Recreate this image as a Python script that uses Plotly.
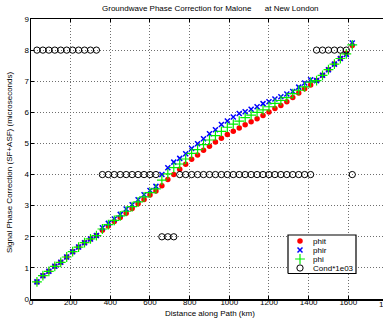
import plotly.graph_objects as go

# ---------------- data ----------------
dist_km = [30, 60, 90, 120, 150, 180, 210, 240, 270, 300, 330,
           360, 390, 420, 450, 480, 510, 540, 570, 600, 630,
           660, 690, 720,
           750, 780, 810, 840, 870, 900, 930, 960, 990, 1020, 1050, 1080,
           1110, 1140, 1170, 1200, 1230, 1260, 1290, 1320, 1350, 1380, 1410,
           1440, 1470, 1500, 1530, 1560, 1590, 1620]

phit = [0.55, 0.75, 0.89, 1.05, 1.18, 1.35, 1.52, 1.67, 1.81, 1.93, 2.04,
        2.21, 2.35, 2.49, 2.62, 2.76, 2.91, 3.06, 3.20, 3.34, 3.47,
        3.64, 3.84, 4.00,
        4.17, 4.33, 4.49, 4.63, 4.78, 4.91, 5.05, 5.17, 5.29, 5.39, 5.50, 5.60,
        5.70, 5.79, 5.90, 6.01, 6.12, 6.22, 6.34, 6.48, 6.62, 6.76, 6.88,
        7.02, 7.19, 7.37, 7.55, 7.73, 7.90, 8.15]

phir = [0.55, 0.75, 0.89, 1.05, 1.18, 1.35, 1.52, 1.67, 1.81, 1.93, 2.04,
        2.29, 2.43, 2.57, 2.72, 2.89, 3.03, 3.19, 3.35, 3.49, 3.62,
        4.00, 4.22, 4.40,
        4.52, 4.67, 4.84, 4.99, 5.15, 5.31, 5.44, 5.61, 5.72, 5.85, 5.96, 6.02,
        6.10, 6.18, 6.28, 6.34, 6.43, 6.50, 6.59, 6.67, 6.81, 6.94, 7.05,
        7.02, 7.19, 7.37, 7.55, 7.73, 7.86, 8.23]

phi = [0.55, 0.75, 0.89, 1.05, 1.18, 1.35, 1.52, 1.67, 1.81, 1.93, 2.04,
       2.25, 2.39, 2.53, 2.67, 2.82, 2.97, 3.12, 3.28, 3.42, 3.54,
       3.82, 4.02, 4.22,
       4.34, 4.50, 4.68, 4.80, 4.96, 5.11, 5.25, 5.39, 5.52, 5.62, 5.72, 5.83,
       5.91, 6.00, 6.08, 6.18, 6.29, 6.38, 6.47, 6.60, 6.71, 6.82, 6.97,
       7.02, 7.19, 7.37, 7.55, 7.73, 7.88, 8.17]

cond_1e3 = [8, 8, 8, 8, 8, 8, 8, 8, 8, 8, 8,
            4, 4, 4, 4, 4, 4, 4, 4, 4, 4,
            2, 2, 2,
            4, 4, 4, 4, 4, 4, 4, 4, 4, 4, 4, 4,
            4, 4, 4, 4, 4, 4, 4, 4, 4, 4, 4,
            8, 8, 8, 8, 8, 8, 4]

x_tick_vals = [0, 200, 400, 600, 800, 1000, 1200, 1400, 1600, 1800]
y_tick_vals = [0, 1, 2, 3, 4, 5, 6, 7, 8, 9]

title_text = "Groundwave Phase Correction for Malone\u00a0\u00a0\u00a0\u00a0\u00a0\u00a0at New London"
x_title = "Distance along Path (km)"
y_title = "Signal Phase Correction (SF+ASF) (microseconds)"
legend_names = ["phit", "phir", "phi", "Cond*1e03"]

# ---------------- layout constants ----------------
W, H = 383, 324
L, R, T, B = 31, 0, 19, 25
PW, PH = W - L - R, H - T - B
X_MAX = 1775
FONT = "Liberation Sans, Arial, Helvetica, sans-serif"
GRID = "rgb(110,110,110)"

def fx(px):
    return (px - L) / PW

def fy(py):
    return (H - B - py) / PH

styles = [
    dict(symbol="circle", size=5.5, color="#ff0000", line=dict(width=0)),
    dict(symbol="x-thin", size=5, color="#0000ff", line=dict(width=1.5, color="#0000ff")),
    dict(symbol="cross-thin", size=7, color="#00ee00", line=dict(width=1.2, color="#00ee00")),
    dict(symbol="circle-open", size=6.3, color="#000000", line=dict(width=1, color="#000000")),
]
series = [phit, phir, phi, cond_1e3]

fig = go.Figure()
for name, ys, st in zip(legend_names, series, styles):
    fig.add_trace(go.Scatter(x=dist_km, y=ys, mode="markers", name=name,
                             marker=st, showlegend=False, cliponaxis=False))

# custom legend (box + sample markers) on an overlay axis in plot fractions
bx0, bx1, by0, by1 = fx(288), fx(356), fy(273.5), fy(235)
fig.add_trace(go.Scatter(x=[bx0, bx1, bx1, bx0, bx0], y=[by0, by0, by1, by1, by0],
                         mode="lines", fill="toself", fillcolor="white",
                         line=dict(color="black", width=1.2), xaxis="x2", yaxis="y2",
                         showlegend=False, hoverinfo="skip"))
row_px = [241, 250, 259, 268]
for name, st, rp in zip(legend_names, styles, row_px):
    fig.add_trace(go.Scatter(x=[fx(300)], y=[fy(rp)], mode="markers", marker=st,
                             xaxis="x2", yaxis="y2", showlegend=False, hoverinfo="skip"))
    fig.add_annotation(x=fx(311), y=fy(rp), xref="paper", yref="paper", text=name,
                       showarrow=False, xanchor="left", yanchor="middle",
                       font=dict(size=8, color="black", family=FONT))

# titles
fig.add_annotation(x=fx(210), y=fy(9), xref="paper", yref="paper", text=title_text,
                   showarrow=False, xanchor="center", yanchor="middle",
                   font=dict(size=8, color="black", family=FONT))
fig.add_annotation(x=fx(210), y=fy(313), xref="paper", yref="paper", text=x_title,
                   showarrow=False, xanchor="center", yanchor="middle",
                   font=dict(size=8, color="black", family=FONT))
fig.add_annotation(x=fx(9), y=fy(162), xref="paper", yref="paper", text=y_title,
                   showarrow=False, xanchor="center", yanchor="middle", textangle=-90,
                   font=dict(size=8, color="black", family=FONT))
# tick labels that fall just past the visible window edge (partly visible, as in the reference)
for v in x_tick_vals:
    if v > X_MAX:
        fig.add_annotation(x=v / X_MAX, y=fy(304.5), xref="paper", yref="paper", text=str(v),
                           showarrow=False, xanchor="center", yanchor="middle",
                           font=dict(size=8, color="black", family=FONT))

axis_common = dict(showgrid=True, gridcolor=GRID, griddash="1px,2px", gridwidth=1,
                   showline=True, linecolor="black", linewidth=1.5,
                   ticks="inside", ticklen=3, tickcolor="black", tickwidth=1,
                   tickfont=dict(size=8, color="black", family=FONT),
                   zeroline=False, fixedrange=True, automargin=False)

fig.update_layout(
    width=W, height=H,
    margin=dict(l=L, r=R, t=T, b=B, pad=0),
    paper_bgcolor="white", plot_bgcolor="white",
    showlegend=False,
    hovermode=False,
    xaxis=dict(range=[0, X_MAX], tickvals=x_tick_vals, mirror="ticks",
               ticklabelstandoff=-5, **axis_common),
    yaxis=dict(range=[0, 9], tickvals=y_tick_vals, mirror=False,
               ticklabelstandoff=-1, **axis_common),
    xaxis2=dict(range=[0, 1], overlaying="x", visible=False, fixedrange=True),
    yaxis2=dict(range=[0, 1], overlaying="y", visible=False, fixedrange=True),
)

fig.write_html("out.html", config={"displayModeBar": False, "staticPlot": True},
               post_script="document.body.style.margin='0px';"
                           "document.body.style.overflow='hidden';")
